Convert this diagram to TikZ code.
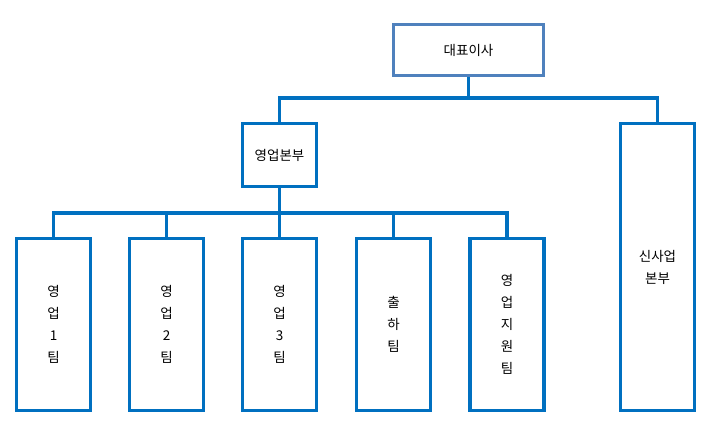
\documentclass[tikz,border=0pt]{standalone}
\usepackage{fontspec}
\setmainfont{Noto Sans CJK KR}
\usepackage{tikz}
\usetikzlibrary{positioning}
\definecolor{linkblue}{RGB}{0,112,192}
\definecolor{topblue}{RGB}{79,129,189}
\tikzset{%
  unit/.style={draw=linkblue, line width=3.5pt, fill=white, minimum width=74pt, align=center, font=\fontsize{13.5pt}{22pt}\selectfont},
  link/.style={draw=linkblue, line width=3.5pt}
}
\begin{document}
\begin{tikzpicture}[x=1pt,y=-1pt]
	\useasboundingbox (0,0) rectangle (721,432);
	\node[unit, draw=topblue, minimum width=150pt, minimum height=51pt] (ceo) at (468.5,50) {대표이사};
	\node[unit, minimum height=63pt] (sales) at (279.5,155) {영업본부};
	\node[unit, minimum height=287pt] (newbiz) at (657.5,267) {신사업\\본부};
	\node[unit, minimum height=172pt] (t1) at (53.5,324.5) {영\\업\\1\\팀};
	\node[unit, minimum height=172pt] (t2) at (166.5,324.5) {영\\업\\2\\팀};
	\node[unit, minimum height=172pt] (t3) at (279.5,324.5) {영\\업\\3\\팀};
	\node[unit, minimum height=172pt] (t4) at (393.5,324.5) {출\\하\\팀};
	\node[unit, minimum height=172pt] (t5) at (507,324.5) {영\\업\\지\\원\\팀};
	% connectors
	\coordinate (top) at (468.5,98);
	\coordinate (mid) at (279.5,213);
	\draw[link] (ceo.south) -- (top);
	\draw[link] (sales.north) |- (top) -| (newbiz.north);
	\draw[link] (sales.south) -- (mid);
	\foreach \t in {t1,t2,t3,t4,t5}
	  \draw[link] (mid) -| (\t.north);
\end{tikzpicture}
\end{document}
